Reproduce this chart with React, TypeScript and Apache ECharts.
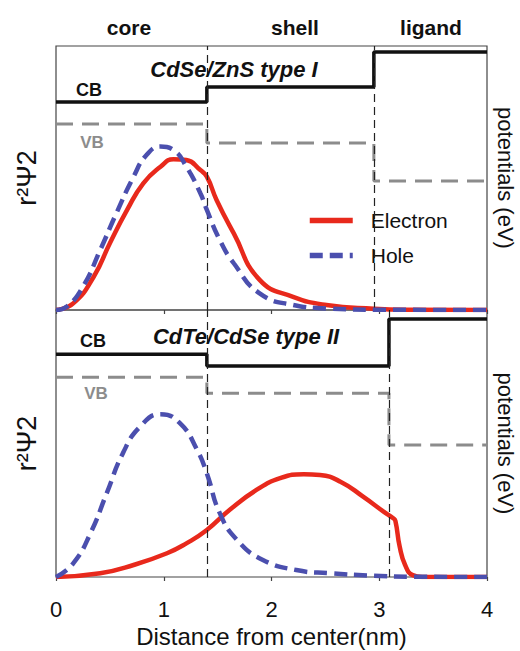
import React, { useEffect, useRef } from "react";
import * as echarts from "echarts";

// ---- data ----
const xTicks = [0, 1, 2, 3, 4];

// top panel: CdSe/ZnS type I
const topBoundaries = [1.4, 2.95];
const topCB = [78.8, 84.5, 97.7];
const topVB = [70.5, 63.3, 48.9];
const topElectronX = [0, 0.16, 0.35, 0.5, 0.66, 0.81, 0.97, 1.09, 1.21, 1.34, 1.4, 1.49, 1.65, 1.89, 2.2, 2.51, 2.95, 3.3, 4];
const topElectronY = [0, 2.5, 12.6, 25.3, 37.9, 48, 54.3, 57.1, 56.8, 53, 50.5, 41.7, 29, 11.4, 5, 1.9, 0.5, 0.1, 0];
const topHoleX = [0, 0.1, 0.25, 0.41, 0.56, 0.72, 0.84, 0.97, 1.09, 1.21, 1.34, 1.4, 1.52, 1.65, 1.89, 2.2, 2.51, 3.0, 4];
const topHoleY = [0, 1.3, 8.8, 22.7, 36.6, 50.5, 58.7, 61.9, 60.6, 54.3, 44.2, 37.9, 26.5, 17.7, 6.3, 1.9, 0.6, 0.1, 0];

// bottom panel: CdTe/CdSe type II
const botBoundaries = [1.4, 3.09];
const botCB = [83.4, 79.0, 96.6];
const botVB = [74.8, 68.8, 49.4];
const botElectronX = [0, 0.41, 0.72, 1.03, 1.21, 1.4, 1.61, 1.86, 2.08, 2.3, 2.45, 2.64, 2.85, 3.04, 3.13, 3.15, 3.19, 3.24, 3.31, 3.4, 4];
const botElectronY = [0, 1.4, 4.5, 8.9, 12.6, 17.6, 25.1, 32.6, 37, 38.5, 38.2, 35.7, 30.1, 24.5, 22, 21, 11.3, 4.5, 0.7, 0, 0];
const botHoleX = [0, 0.16, 0.32, 0.47, 0.62, 0.78, 0.97, 1.15, 1.31, 1.4, 1.52, 1.68, 1.92, 2.23, 2.54, 2.95, 3.3, 4];
const botHoleY = [0, 5.1, 16.4, 31.3, 46.3, 56.3, 61, 57.6, 47.6, 38.8, 23.9, 13.9, 6.4, 2.6, 1.4, 0.5, 0.1, 0];

const FONT = "'Liberation Sans', Arial, Helvetica, sans-serif";
const RED = "#e8291c";
const BLUE = "#4b4fae";
const GRAY = "#8c8c8c";

const zip = (xs: number[], ys: number[]) => xs.map((x, i) => [x, ys[i]]);
const steps = (bounds: number[], levels: number[]) => {
  const edges = [0, ...bounds, 4];
  const out: number[][] = [];
  levels.forEach((lv, i) => {
    out.push([edges[i], lv]);
    out.push([edges[i + 1], lv]);
  });
  return out;
};

export default function App() {
  const ref = useRef<HTMLDivElement>(null);
  useEffect(() => {
    const chart = echarts.init(ref.current!, null, { renderer: "svg" });
    const xAxisBase = {
      type: "value",
      min: 0,
      max: 4,
      interval: 1,
      axisLine: { show: false },
      axisTick: { show: true, inside: false, length: 4, lineStyle: { color: "#444", width: 1.2 } },
      splitLine: { show: false },
    };
    const yBase = {
      type: "value",
      min: 0,
      max: 100,
      axisLabel: { show: false },
      axisTick: { show: false },
      axisLine: { show: false },
      splitLine: { show: false },
      nameLocation: "middle",
    };
    const leftName = { fontFamily: FONT, fontSize: 27, color: "#111" };
    const rightName = { fontFamily: FONT, fontSize: 22, color: "#111" };
    const vlines = (bounds: number[]) => ({
      symbol: "none",
      silent: true,
      label: { show: false },
      lineStyle: { type: [8, 5], color: "#222", width: 1.2 },
      data: bounds.map((b) => ({ xAxis: b })),
    });
    const curve = (name: string, data: number[][], xi: number, yi: number, color: string, dashed: boolean, z: number, ml?: any) => ({
      type: "line",
      name,
      data,
      xAxisIndex: xi,
      yAxisIndex: yi,
      symbol: "none",
      smooth: 0.5,
      z,
      lineStyle: { color, width: 4.5, type: dashed ? [13, 7] : "solid" },
      itemStyle: { color },
      markLine: ml,
    });
    const stepLine = (data: number[][], xi: number, yi: number, color: string, dashed: boolean, width: number) => ({
      type: "line",
      data,
      xAxisIndex: xi,
      yAxisIndex: yi,
      symbol: "none",
      z: 3,
      lineStyle: { color, width, type: dashed ? [17, 9] : "solid" },
    });
    const txt = (text: string, x: number, y: number, size: number, opts: any = {}) => ({
      type: "text",
      x,
      y,
      style: {
        text,
        fontFamily: FONT,
        fontSize: size,
        fontWeight: "bold",
        fill: opts.fill || "#111",
        fontStyle: opts.italic ? "italic" : "normal",
        align: "center",
        verticalAlign: "middle",
      },
      z: 10,
    });
    chart.setOption({
      animation: false,
      backgroundColor: "#ffffff",
      grid: [
        { left: 56, right: 33, top: 46, height: 264, show: true, borderColor: "#444", borderWidth: 1.2, containLabel: false, outerBoundsMode: "none" },
        { left: 56, right: 33, top: 310, height: 267, show: true, borderColor: "#444", borderWidth: 1.2, containLabel: false, outerBoundsMode: "none" },
      ],
      xAxis: [
        { ...xAxisBase, gridIndex: 0, axisLabel: { show: false } },
        {
          ...xAxisBase,
          gridIndex: 1,
          data: xTicks,
          axisLabel: { show: true, margin: 21, fontFamily: FONT, fontSize: 22, color: "#111" },
          name: "Distance from center(nm)",
          nameLocation: "middle",
          nameGap: 47,
          nameTextStyle: { fontFamily: FONT, fontSize: 24, color: "#111" },
        },
      ],
      yAxis: [
        { ...yBase, gridIndex: 0, position: "left", name: "r²Ψ2", nameRotate: 90, nameGap: 16, nameTextStyle: leftName },
        { ...yBase, gridIndex: 0, position: "right", name: "potentials (eV)", nameRotate: -90, nameGap: 7, nameTextStyle: rightName },
        { ...yBase, gridIndex: 1, position: "left", name: "r²Ψ2", nameRotate: 90, nameGap: 16, nameTextStyle: leftName },
        { ...yBase, gridIndex: 1, position: "right", name: "potentials (eV)", nameRotate: -90, nameGap: 7, nameTextStyle: rightName },
      ],
      legend: {
        data: ["Electron", "Hole"],
        left: 302,
        top: 205,
        orient: "vertical",
        itemWidth: 43,
        itemHeight: 14,
        itemGap: 14,
        itemStyle: { opacity: 0 },
        lineStyle: { width: 5.5 },
        textStyle: { fontFamily: FONT, fontSize: 21, color: "#111", padding: [0, 0, 0, 13] },
      },
      series: [
        stepLine(steps(topBoundaries, topCB), 0, 1, "#111", false, 3.5),
        stepLine(steps(topBoundaries, topVB), 0, 1, GRAY, true, 3),
        curve("Electron", zip(topElectronX, topElectronY), 0, 0, RED, false, 4, vlines(topBoundaries)),
        curve("Hole", zip(topHoleX, topHoleY), 0, 0, BLUE, true, 5),
        stepLine(steps(botBoundaries, botCB), 1, 3, "#111", false, 3.5),
        stepLine(steps(botBoundaries, botVB), 1, 3, GRAY, true, 3),
        curve("Electron", zip(botElectronX, botElectronY), 1, 2, RED, false, 4, vlines(botBoundaries)),
        curve("Hole", zip(botHoleX, botHoleY), 1, 2, BLUE, true, 5),
      ],
      graphic: [
        txt("core", 129, 27, 21),
        txt("shell", 295, 27, 21),
        txt("ligand", 431, 27, 21),
        txt("CdSe/ZnS type I", 234, 69, 22, { italic: true }),
        txt("CB", 89, 90, 18),
        txt("VB", 92, 142, 17, { fill: GRAY }),
        txt("CdTe/CdSe type II", 246, 336, 22, { italic: true }),
        txt("CB", 93, 341, 18),
        txt("VB", 96, 393, 17, { fill: GRAY }),
      ],
    });
    return () => chart.dispose();
  }, []);
  return <div ref={ref} style={{ position: "fixed", left: 0, top: 0, width: 520, height: 651 }} />;
}
